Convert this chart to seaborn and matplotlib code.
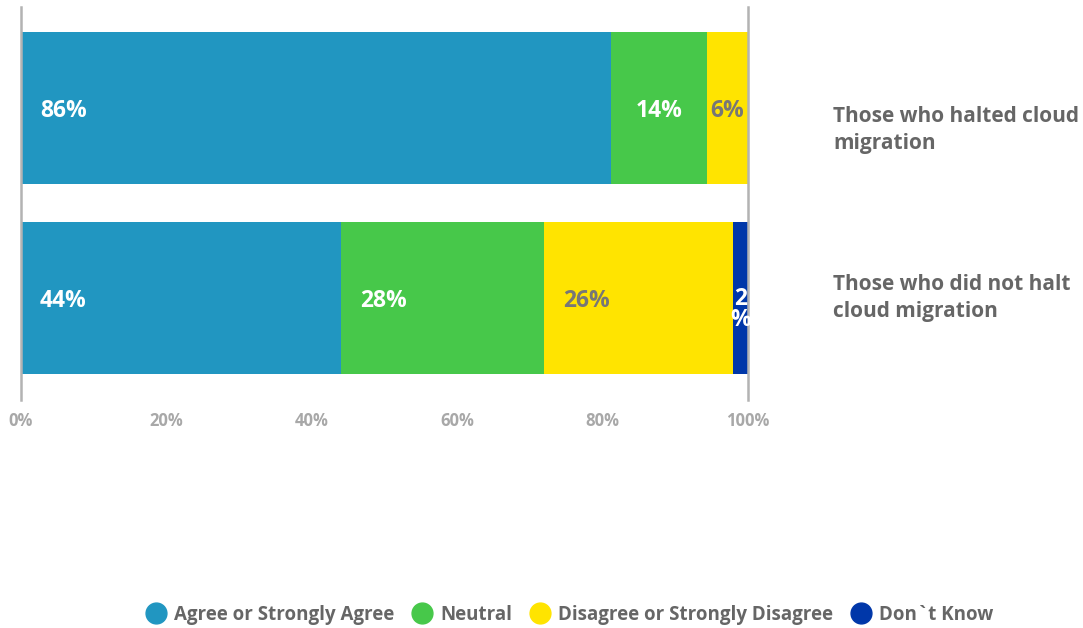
import matplotlib
matplotlib.use("Agg")
import matplotlib.pyplot as plt
from matplotlib.lines import Line2D
import seaborn as sns
import pandas as pd

# Survey answers by group (percent of respondents)
groups = ["Those who halted cloud\nmigration", "Those who did not halt\ncloud migration"]
responses = ["Agree or Strongly Agree", "Neutral", "Disagree or Strongly Disagree", "Don`t Know"]
agree = [86, 44]
neutral = [14, 28]
disagree = [6, 26]
dont_know = [0, 2]
tick_values = [0, 20, 40, 60, 80, 100]

colors = ["#2196c1", "#47c84a", "#ffe400", "#0037a9"]
value_colors = ["white", "white", "#777777", "white"]

sns.set_theme(style="white")
plt.rcParams["font.family"] = ["Open Sans", "DejaVu Sans"]

df = pd.DataFrame({"group": groups})
for name, vals in zip(responses, [agree, neutral, disagree, dont_know]):
    df[name] = vals

# 100% stacked: each bar is normalised to its row total
shares = df[responses].div(df[responses].sum(axis=1), axis=0) * 100
ends = shares.cumsum(axis=1)

fig = plt.figure(figsize=(10.83, 6.28), dpi=100)
ax = fig.add_axes([21 / 1083, 1 - 400 / 628, 727 / 1083, 393 / 628])

# draw cumulative ends from the last segment backwards so the bars stack
for resp, col in reversed(list(zip(responses, colors))):
    sub = pd.DataFrame({"group": df["group"], "end": ends[resp], "v": df[resp]})
    sub = sub[sub["v"] > 0]
    sns.barplot(data=sub, x="end", y="group", order=groups, orient="h",
                color=col, saturation=1, width=0.8, linewidth=0, ax=ax)

ax.set_xlim(0, 100)
ax.set_ylim(1.535, -0.532)
ax.set_xlabel("")
ax.set_ylabel("")
ax.set_yticks([])
ax.set_xticks(tick_values)
ax.set_xticklabels([f"{v}%" for v in tick_values], color="#a8a8a8",
                   fontsize=12, fontweight="bold")
ax.tick_params(axis="x", length=0, pad=9)

for side in ["top", "bottom"]:
    ax.spines[side].set_visible(False)
for side in ["left", "right"]:
    ax.spines[side].set_visible(True)
    ax.spines[side].set_color("#b3b3b3")
    ax.spines[side].set_linewidth(1.8)
    ax.spines[side].set_zorder(5)

# value labels inside the segments
for i in range(len(groups)):
    for j, resp in enumerate(responses):
        v = df.loc[i, resp]
        if v <= 0:
            continue
        w = shares.loc[i, resp]
        start = ends.loc[i, resp] - w
        kw = dict(color=value_colors[j], fontsize=16.5, fontweight="bold", va="center", zorder=6)
        if w >= 15:
            ax.text(start + 2.6, i + 0.015, f"{v}%", ha="left", **kw)
        elif w >= 4:
            ax.text(start + w / 2, i + 0.015, f"{v}%", ha="center", **kw)
        else:
            ax.text(start + w / 2, i + 0.06, f"{v}\n%", ha="center", linespacing=0.85, **kw)

# group names to the right of the plot
name_offset = [0.115, 0.0]
for i, g in enumerate(groups):
    ax.text(812 / 727, i + name_offset[i], g, transform=ax.get_yaxis_transform(),
            ha="left", va="center", fontsize=15, fontweight="bold",
            color="#666666", linespacing=1.4)

handles = [Line2D([], [], marker="o", linestyle="", markersize=15,
                  markerfacecolor=c, markeredgecolor=c) for c in colors]
fig.legend(handles, responses, loc="center", bbox_to_anchor=(570 / 1083, 1 - 615 / 628),
           ncol=4, frameon=False, handletextpad=0.45, columnspacing=1.0,
           handlelength=1.0, labelcolor="#666666",
           prop={"weight": "bold", "size": 13.5})

fig.savefig("out.png", dpi=100)
